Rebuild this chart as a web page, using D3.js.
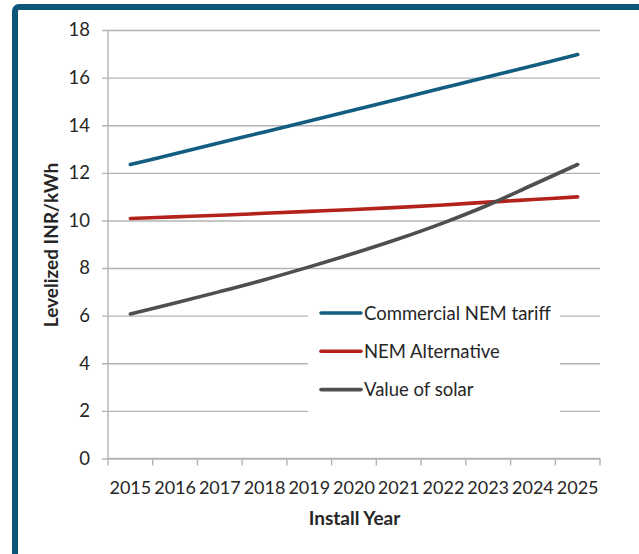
<!DOCTYPE html>
<html>
<head>
<meta charset="utf-8">
<script src="https://cdn.jsdelivr.net/npm/d3@7"></script>
<style>
  body { margin: 0; background: #fff; }
  svg text { font-family: Lato, "Open Sans", sans-serif; fill: #262626; }
</style>
</head>
<body>
<svg id="chart" width="639" height="554"></svg>
<script>
// chart values
var years = ["2015", "2016", "2017", "2018", "2019", "2020", "2021", "2022", "2023", "2024", "2025"];
var commercialNem = [12.35, 12.8, 13.26, 13.72, 14.18, 14.64, 15.1, 15.57, 16.04, 16.5, 16.97];
var nemAlternative = [10.08, 10.15, 10.22, 10.3, 10.38, 10.46, 10.55, 10.65, 10.77, 10.88, 10.99];
var valueOfSolar = [6.07, 6.53, 7.01, 7.51, 8.05, 8.62, 9.23, 9.9, 10.65, 11.5, 12.35];
var yTicks = [0, 2, 4, 6, 8, 10, 12, 14, 16, 18];
var seriesNames = ["Commercial NEM tariff", "NEM Alternative", "Value of solar"];
var seriesColors = ["#125d80", "#b3221b", "#4f4f4f"];

(function() {
    var series = [commercialNem, nemAlternative, valueOfSolar].map(function(vals, i) {
        return { name: seriesNames[i], color: seriesColors[i], values: vals };
    });

    var svg = d3.select("#chart");
    var plotLeft = 108, plotRight = 600, plotTop = 30, plotBottom = 458.5;

    // outer frame, only top and left edges show inside the window
    svg.append("rect")
        .attr("x", 15).attr("y", 7)
        .attr("width", 700).attr("height", 700)
        .attr("rx", 4)
        .attr("fill", "none")
        .attr("stroke", "#0c5677")
        .attr("stroke-width", 6);

    var x = d3.scaleBand().domain(years).range([plotLeft, plotRight]).padding(0);
    var y = d3.scaleLinear().domain([0, 18]).range([plotBottom, plotTop]);

    // horizontal gridlines + y ticks
    svg.append("g")
        .attr("transform", "translate(" + plotLeft + ",0)")
        .call(d3.axisLeft(y).tickValues(yTicks).tickSize(-(plotRight - plotLeft)).tickSizeOuter(0).tickPadding(18))
        .call(function(g) {
            g.select(".domain").remove();
            g.selectAll(".tick line")
                .attr("x1", -6)
                .attr("stroke", "#b4b4b4")
                .attr("stroke-width", 1.4);
            g.selectAll(".tick text")
                .style("font-size", "18.5px")
                .attr("fill", "#262626");
        });

    // y axis line
    svg.append("line")
        .attr("x1", plotLeft).attr("x2", plotLeft)
        .attr("y1", plotTop).attr("y2", plotBottom)
        .attr("stroke", "#b4b4b4")
        .attr("stroke-width", 1.4);

    // x axis, ticks between categories
    var xAxis = svg.append("g")
        .attr("transform", "translate(0," + plotBottom + ")");
    xAxis.append("line")
        .attr("x1", plotLeft).attr("x2", plotRight)
        .attr("stroke", "#b4b4b4")
        .attr("stroke-width", 1.4);
    var bounds = years.map(function(d) { return x(d); }).concat([plotRight]);
    xAxis.selectAll("line.tk")
        .data(bounds)
        .enter().append("line")
        .attr("class", "tk")
        .attr("x1", function(d) { return d; })
        .attr("x2", function(d) { return d; })
        .attr("y1", 0).attr("y2", 7)
        .attr("stroke", "#b4b4b4")
        .attr("stroke-width", 1.4);
    xAxis.selectAll("text")
        .data(years)
        .enter().append("text")
        .attr("x", function(d) { return x(d) + x.bandwidth() / 2; })
        .attr("y", 35.5)
        .attr("text-anchor", "middle")
        .style("font-size", "18px")
        .text(function(d) { return d; });

    // legend box hides the gridlines behind it
    var legendX = 320, legendY = 313, legendGap = 38.3;
    svg.append("rect")
        .attr("x", 308).attr("y", 290)
        .attr("width", 252).attr("height", 125)
        .attr("fill", "#fff");

    // series lines
    var line = d3.line()
        .x(function(d, i) { return x(years[i]) + x.bandwidth() / 2; })
        .y(function(d) { return y(d); })
        .curve(d3.curveCatmullRom.alpha(0.5));

    svg.selectAll("path.series")
        .data(series)
        .enter().append("path")
        .attr("class", "series")
        .attr("d", function(d) { return line(d.values); })
        .attr("fill", "none")
        .attr("stroke", function(d) { return d.color; })
        .attr("stroke-width", 3.6)
        .attr("stroke-linecap", "round");

    // legend entries
    var legend = svg.selectAll("g.legend")
        .data(series)
        .enter().append("g")
        .attr("class", "legend")
        .attr("transform", function(d, i) { return "translate(" + legendX + "," + (legendY + i * legendGap) + ")"; });
    legend.append("line")
        .attr("x1", 1).attr("x2", 41)
        .attr("stroke", function(d) { return d.color; })
        .attr("stroke-width", 3.6)
        .attr("stroke-linecap", "round");
    legend.append("text")
        .attr("x", 44)
        .attr("y", 6.5)
        .style("font-size", "18.5px")
        .text(function(d) { return d.name; });

    // axis titles
    svg.append("text")
        .attr("transform", "translate(58,245) rotate(-90)")
        .attr("text-anchor", "middle")
        .style("font-size", "19px")
        .style("font-weight", "bold")
        .text("Levelized INR/kWh");

    svg.append("text")
        .attr("x", 354.5)
        .attr("y", 525)
        .attr("text-anchor", "middle")
        .style("font-size", "19px")
        .style("font-weight", "bold")
        .text("Install Year");
})();
</script>
</body>
</html>
